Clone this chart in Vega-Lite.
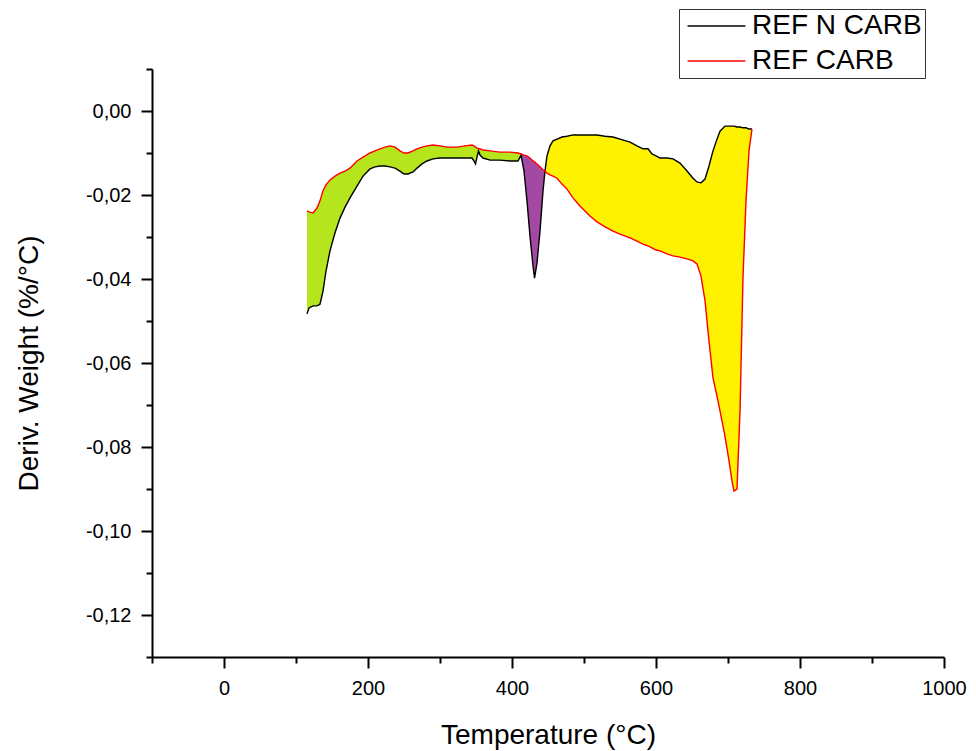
{
  "$schema": "https://vega.github.io/schema/vega-lite/v6.json",
  "autosize": {"type": "none"},
  "width": 792,
  "height": 588,
  "padding": {"left": 152, "top": 69, "right": 32, "bottom": 94},
  "background": "white",
  "config": {"view": {"stroke": null}, "font": "Liberation Sans"},
  "data": {"values": [
    {"T": 115.3, "n": -0.0483, "c": -0.0238, "r": "g"},
    {"T": 118.1, "n": -0.0469, "c": -0.0240, "r": "g"},
    {"T": 123.6, "n": -0.0464, "c": -0.0243, "r": "g"},
    {"T": 129.2, "n": -0.0464, "c": -0.0231, "r": "g"},
    {"T": 133.3, "n": -0.0460, "c": -0.0214, "r": "g"},
    {"T": 137.5, "n": -0.0429, "c": -0.0190, "r": "g"},
    {"T": 141.7, "n": -0.0381, "c": -0.0176, "r": "g"},
    {"T": 147.2, "n": -0.0333, "c": -0.0164, "r": "g"},
    {"T": 154.2, "n": -0.0290, "c": -0.0155, "r": "g"},
    {"T": 161.1, "n": -0.0255, "c": -0.0148, "r": "g"},
    {"T": 168.1, "n": -0.0229, "c": -0.0143, "r": "g"},
    {"T": 175.0, "n": -0.0207, "c": -0.0136, "r": "g"},
    {"T": 184.7, "n": -0.0179, "c": -0.0119, "r": "g"},
    {"T": 193.1, "n": -0.0155, "c": -0.0110, "r": "g"},
    {"T": 202.8, "n": -0.0138, "c": -0.0100, "r": "g"},
    {"T": 209.7, "n": -0.0133, "c": -0.0095, "r": "g"},
    {"T": 216.7, "n": -0.0131, "c": -0.0090, "r": "g"},
    {"T": 223.6, "n": -0.0131, "c": -0.0086, "r": "g"},
    {"T": 230.6, "n": -0.0133, "c": -0.0083, "r": "g"},
    {"T": 237.5, "n": -0.0136, "c": -0.0086, "r": "g"},
    {"T": 244.4, "n": -0.0143, "c": -0.0095, "r": "g"},
    {"T": 250.0, "n": -0.0150, "c": -0.0100, "r": "g"},
    {"T": 255.6, "n": -0.0150, "c": -0.0100, "r": "g"},
    {"T": 262.5, "n": -0.0145, "c": -0.0095, "r": "g"},
    {"T": 268.1, "n": -0.0136, "c": -0.0090, "r": "g"},
    {"T": 275.0, "n": -0.0126, "c": -0.0086, "r": "g"},
    {"T": 281.9, "n": -0.0119, "c": -0.0083, "r": "g"},
    {"T": 290.3, "n": -0.0114, "c": -0.0081, "r": "g"},
    {"T": 300.0, "n": -0.0112, "c": -0.0083, "r": "g"},
    {"T": 309.7, "n": -0.0112, "c": -0.0086, "r": "g"},
    {"T": 323.6, "n": -0.0112, "c": -0.0086, "r": "g"},
    {"T": 334.7, "n": -0.0112, "c": -0.0083, "r": "g"},
    {"T": 344.4, "n": -0.0112, "c": -0.0081, "r": "g"},
    {"T": 347.2, "n": -0.0119, "c": -0.0083, "r": "g"},
    {"T": 349.3, "n": -0.0126, "c": -0.0086, "r": "g"},
    {"T": 351.4, "n": -0.0110, "c": -0.0088, "r": "g"},
    {"T": 353.5, "n": -0.0095, "c": -0.0090, "r": "g"},
    {"T": 355.6, "n": -0.0105, "c": -0.0090, "r": "g"},
    {"T": 359.7, "n": -0.0112, "c": -0.0093, "r": "g"},
    {"T": 369.4, "n": -0.0117, "c": -0.0095, "r": "g"},
    {"T": 383.3, "n": -0.0117, "c": -0.0098, "r": "g"},
    {"T": 397.2, "n": -0.0119, "c": -0.0098, "r": "g"},
    {"T": 408.3, "n": -0.0119, "c": -0.0100, "r": "g"},
    {"T": 412.5, "n": -0.0105, "c": -0.0102, "r": "g"},
    {"T": 412.5, "n": -0.0105, "c": -0.0102, "r": "p"},
    {"T": 416.7, "n": -0.0143, "c": -0.0105, "r": "p"},
    {"T": 420.8, "n": -0.0214, "c": -0.0107, "r": "p"},
    {"T": 425.0, "n": -0.0298, "c": -0.0112, "r": "p"},
    {"T": 429.2, "n": -0.0369, "c": -0.0119, "r": "p"},
    {"T": 431.3, "n": -0.0398, "c": -0.0121, "r": "p"},
    {"T": 434.7, "n": -0.0362, "c": -0.0126, "r": "p"},
    {"T": 438.9, "n": -0.0286, "c": -0.0133, "r": "p"},
    {"T": 443.1, "n": -0.0190, "c": -0.0140, "r": "p"},
    {"T": 445.8, "n": -0.0143, "c": -0.0143, "r": "p"},
    {"T": 445.8, "n": -0.0143, "c": -0.0143, "r": "y"},
    {"T": 448.6, "n": -0.0107, "c": -0.0148, "r": "y"},
    {"T": 452.8, "n": -0.0083, "c": -0.0152, "r": "y"},
    {"T": 456.9, "n": -0.0071, "c": -0.0155, "r": "y"},
    {"T": 462.5, "n": -0.0067, "c": -0.0160, "r": "y"},
    {"T": 469.4, "n": -0.0062, "c": -0.0174, "r": "y"},
    {"T": 476.4, "n": -0.0060, "c": -0.0186, "r": "y"},
    {"T": 484.7, "n": -0.0057, "c": -0.0207, "r": "y"},
    {"T": 494.4, "n": -0.0057, "c": -0.0226, "r": "y"},
    {"T": 508.3, "n": -0.0057, "c": -0.0250, "r": "y"},
    {"T": 518.1, "n": -0.0057, "c": -0.0264, "r": "y"},
    {"T": 529.2, "n": -0.0060, "c": -0.0276, "r": "y"},
    {"T": 540.3, "n": -0.0062, "c": -0.0286, "r": "y"},
    {"T": 550.0, "n": -0.0067, "c": -0.0293, "r": "y"},
    {"T": 563.9, "n": -0.0074, "c": -0.0302, "r": "y"},
    {"T": 573.6, "n": -0.0083, "c": -0.0310, "r": "y"},
    {"T": 581.9, "n": -0.0090, "c": -0.0317, "r": "y"},
    {"T": 588.9, "n": -0.0090, "c": -0.0321, "r": "y"},
    {"T": 594.4, "n": -0.0102, "c": -0.0326, "r": "y"},
    {"T": 600.0, "n": -0.0107, "c": -0.0331, "r": "y"},
    {"T": 605.6, "n": -0.0112, "c": -0.0333, "r": "y"},
    {"T": 615.3, "n": -0.0112, "c": -0.0340, "r": "y"},
    {"T": 623.6, "n": -0.0114, "c": -0.0345, "r": "y"},
    {"T": 633.3, "n": -0.0124, "c": -0.0348, "r": "y"},
    {"T": 643.1, "n": -0.0143, "c": -0.0352, "r": "y"},
    {"T": 651.4, "n": -0.0160, "c": -0.0357, "r": "y"},
    {"T": 656.9, "n": -0.0169, "c": -0.0364, "r": "y"},
    {"T": 662.5, "n": -0.0171, "c": -0.0393, "r": "y"},
    {"T": 668.1, "n": -0.0162, "c": -0.0452, "r": "y"},
    {"T": 673.6, "n": -0.0131, "c": -0.0548, "r": "y"},
    {"T": 679.2, "n": -0.0095, "c": -0.0636, "r": "y"},
    {"T": 684.7, "n": -0.0067, "c": -0.0679, "r": "y"},
    {"T": 688.9, "n": -0.0048, "c": -0.0714, "r": "y"},
    {"T": 695.8, "n": -0.0036, "c": -0.0774, "r": "y"},
    {"T": 701.4, "n": -0.0036, "c": -0.0833, "r": "y"},
    {"T": 705.6, "n": -0.0036, "c": -0.0881, "r": "y"},
    {"T": 708.3, "n": -0.0036, "c": -0.0905, "r": "y"},
    {"T": 712.5, "n": -0.0038, "c": -0.0900, "r": "y"},
    {"T": 716.7, "n": -0.0038, "c": -0.0714, "r": "y"},
    {"T": 720.8, "n": -0.0040, "c": -0.0398, "r": "y"},
    {"T": 725.0, "n": -0.0040, "c": -0.0214, "r": "y"},
    {"T": 729.2, "n": -0.0043, "c": -0.0095, "r": "y"},
    {"T": 733.3, "n": -0.0043, "c": -0.0043, "r": "y"}
  ]},
  "layer": [
    {
      "mark": {"type": "area", "interpolate": "linear", "opacity": 1},
      "encoding": {
        "x": {"field": "T", "type": "quantitative",
          "scale": {"domain": [-100, 1000], "nice": false, "zero": false},
          "axis": {"orient": "bottom", "values": [0, 200, 400, 600, 800, 1000], "grid": false,
            "labelExpr": "format(datum.value, 'd')",
            "domain": true, "domainColor": "#000", "domainWidth": 2,
            "ticks": true, "tickColor": "#000", "tickWidth": 2, "tickSize": 11,
            "labelFontSize": 20, "labelColor": "#000", "labelPadding": 10, "labelFlush": false, "labelOverlap": false, "labelBound": false,
            "title": "Temperature (°C)", "titleFontSize": 28, "titleFontWeight": "normal", "titleColor": "#000",
            "titleY": 86, "titleBaseline": "alphabetic"}},
        "y": {"field": "n", "type": "quantitative",
          "scale": {"domain": [-0.13, 0.01], "nice": false, "zero": false},
          "axis": {"orient": "left", "values": [-0.12, -0.1, -0.08, -0.06, -0.04, -0.02, 0], "grid": false,
            "labelExpr": "replace(replace(format(datum.value, '.2f'), '.', ','), '−', '-')",
            "domain": true, "domainColor": "#000", "domainWidth": 2,
            "ticks": true, "tickColor": "#000", "tickWidth": 2, "tickSize": 11,
            "labelFontSize": 20, "labelColor": "#000", "labelPadding": 10, "labelOverlap": false, "labelBound": false,
            "title": "Deriv. Weight (%/°C)", "titleFontSize": 28, "titleFontWeight": "normal", "titleColor": "#000",
            "titleX": -123, "titleY": 294, "titleAngle": 270, "titleBaseline": "middle", "titleAlign": "center"}},
        "y2": {"field": "c"},
        "fill": {"field": "r", "type": "nominal",
          "scale": {"domain": ["g", "p", "y"], "range": ["#b5e61d", "#a349a4", "#fff200"]},
          "legend": null}
      }
    },
    {
      "transform": [{"fold": ["n", "c"], "as": ["k", "v"]}],
      "mark": {"type": "line", "strokeWidth": 1.4, "interpolate": "linear"},
      "encoding": {
        "x": {"field": "T", "type": "quantitative",
          "scale": {"domain": [-100, 1000], "nice": false, "zero": false},
          "axis": {"orient": "bottom", "values": [-100, 100, 300, 500, 700, 900], "grid": false,
            "domain": false, "labels": false, "ticks": true, "tickColor": "#000", "tickWidth": 2, "tickSize": 6, "title": null}},
        "y": {"field": "v", "type": "quantitative",
          "scale": {"domain": [-0.13, 0.01], "nice": false, "zero": false},
          "axis": {"orient": "left", "values": [-0.13, -0.11, -0.09, -0.07, -0.05, -0.03, -0.01, 0.01], "grid": false,
            "domain": false, "labels": false, "ticks": true, "tickColor": "#000", "tickWidth": 2, "tickSize": 6, "title": null}},
        "stroke": {"field": "k", "type": "nominal",
          "scale": {"domain": ["n", "c"], "range": ["#000000", "#ff0000"]},
          "legend": {"orient": "none", "legendX": 527, "legendY": -60, "title": null,
            "strokeColor": "#333", "padding": 3,
            "symbolType": "M-1.3,0H7.6", "symbolSize": 169, "symbolStrokeWidth": 1.5,
            "labelFontSize": 28, "labelColor": "#000", "labelOffset": 42, "labelLimit": 400, "rowPadding": 7,
            "labelExpr": "datum.value == 'n' ? 'REF N CARB' : 'REF CARB'"}}
      }
    }
  ],
  "resolve": {"axis": {"x": "independent", "y": "independent"}}
}
